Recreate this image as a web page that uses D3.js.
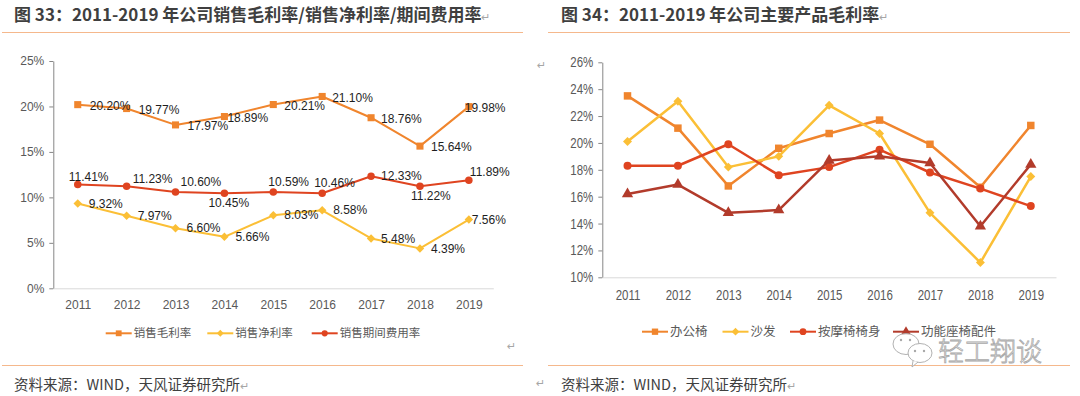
<!DOCTYPE html>
<html>
<head>
<meta charset="utf-8">
<script src="https://cdn.jsdelivr.net/npm/d3@7"></script>
<style>
  body { margin: 0; background: #fff; }
  svg { display: block; }
</style>
</head>
<body>
<svg id="chart" width="1080" height="396"></svg>
<script>
// data
const years = ['2011', '2012', '2013', '2014', '2015', '2016', '2017', '2018', '2019'];

const grossMargin = [20.20, 19.77, 17.97, 18.89, 20.21, 21.10, 18.76, 15.64, 19.98];
const netMargin = [9.32, 7.97, 6.60, 5.66, 8.03, 8.58, 5.48, 4.39, 7.56];
const expenseRatio = [11.41, 11.23, 10.60, 10.45, 10.59, 10.46, 12.33, 11.22, 11.89];
const leftTicks = [0, 5, 10, 15, 20, 25];
const leftNames = ['销售毛利率', '销售净利率', '销售期间费用率'];

const officeChair = [23.5, 21.1, 16.8, 19.6, 20.7, 21.7, 19.9, 16.7, 21.3];
const sofa = [20.1, 23.1, 18.2, 19.0, 22.8, 20.7, 14.8, 11.1, 17.5];
const massageChair = [18.3, 18.3, 19.9, 17.6, 18.2, 19.5, 17.8, 16.6, 15.3];
const seatParts = [16.2, 16.9, 14.8, 15.0, 18.7, 19.0, 18.5, 13.8, 18.4];
const rightTicks = [10, 12, 14, 16, 18, 20, 22, 24, 26];
const rightNames = ['办公椅', '沙发', '按摩椅椅身', '功能座椅配件'];

// where each data label sits relative to its point
const grossLabelDx = [12, 12, 12, 3, 11, 10, 10, 11, -4];
const netLabelDx = [11, 11, 11, 11, 11, 11, 10, 11, 3];
const feeLabelDx = [-9, 6, 5, -16, -5, -8, 10, -9, 1];
const feeLabelDy = [-8, -7, -10, 10, -10, -10, 0, 10, -8];

const ORANGE = '#F0852D', YELLOW = '#FBBF36', RED = '#DF4420', DARKRED = '#B23B2B';
const CJK = '"Noto Sans CJK SC", sans-serif';
const LATIN = '"Liberation Sans", Arial, sans-serif';
const SQUEEZE = 0.82; // right chart axis text is a condensed face

const svg = d3.select('#chart');

function marker(type, size) {
  if (type === 'diamond') return { path: d3.symbol(d3.symbolSquare, size)(), rot: 45 };
  if (type === 'square') return { path: d3.symbol(d3.symbolSquare, size)(), rot: 0 };
  if (type === 'circle') return { path: d3.symbol(d3.symbolCircle, size)(), rot: 0 };
  return { path: d3.symbol(d3.symbolTriangle, size)(), rot: 0 };
}

function drawSeries(g, x, y, values, color, type, size, width) {
  const line = d3.line()
    .x((d, i) => x(years[i]))
    .y(d => y(d));

  g.append('path')
    .datum(values)
    .attr('fill', 'none')
    .attr('stroke', color)
    .attr('stroke-width', width)
    .attr('stroke-linejoin', 'round')
    .attr('d', line);

  const m = marker(type, size);
  g.selectAll(null)
    .data(values)
    .enter().append('path')
    .attr('d', m.path)
    .attr('fill', color)
    .attr('transform', (d, i) => `translate(${x(years[i])},${y(d)}) rotate(${m.rot})`);
}

function drawLabels(g, x, y, values, dx, dy) {
  g.selectAll(null)
    .data(values)
    .enter().append('text')
    .attr('x', (d, i) => x(years[i]) + dx[i])
    .attr('y', (d, i) => y(d) + (dy ? dy[i] : 1))
    .attr('dy', '0.35em')
    .attr('font-family', LATIN)
    .attr('font-size', 12)
    .attr('fill', '#1e1e1e')
    .text(d => d.toFixed(2) + '%');
}

function legendItem(g, lx, ly, color, type, size, label, fontSize) {
  g.append('line')
    .attr('x1', lx).attr('x2', lx + 26)
    .attr('y1', ly).attr('y2', ly)
    .attr('stroke', color).attr('stroke-width', 2);
  const m = marker(type, size);
  g.append('path')
    .attr('d', m.path)
    .attr('fill', color)
    .attr('transform', `translate(${lx + 13},${ly}) rotate(${m.rot})`);
  g.append('text')
    .attr('x', lx + 28).attr('y', ly)
    .attr('dy', '0.36em')
    .attr('font-family', CJK)
    .attr('font-size', fontSize)
    .attr('fill', '#595959')
    .text(label);
}

function returnMark(px, py) {
  svg.append('text')
    .attr('x', px).attr('y', py)
    .attr('font-family', '"DejaVu Sans", sans-serif')
    .attr('font-size', 11)
    .attr('fill', '#a6a6a6')
    .text('↵');
}

function frame(x0, x1, title, tx) {
  const t = svg.append('text')
    .attr('x', tx).attr('y', 21)
    .attr('font-family', CJK)
    .attr('font-weight', 'bold')
    .attr('font-size', 17)
    .attr('fill', '#3f3f3f')
    .text(title);
  t.append('tspan')
    .attr('font-weight', 'normal')
    .attr('font-size', 11)
    .attr('fill', '#a6a6a6')
    .text('↵');

  svg.append('line')
    .attr('x1', x0).attr('x2', x1).attr('y1', 32.5).attr('y2', 32.5)
    .attr('stroke', '#F5B88C').attr('stroke-width', 1);
  svg.append('line')
    .attr('x1', x0).attr('x2', x1).attr('y1', 365.5).attr('y2', 365.5)
    .attr('stroke', '#F5B88C').attr('stroke-width', 1);

  const s = svg.append('text')
    .attr('x', tx).attr('y', 390)
    .attr('font-family', CJK)
    .attr('font-size', 14.5)
    .attr('fill', '#404040')
    .text('资料来源：WIND，天风证券研究所');
  s.append('tspan')
    .attr('font-size', 11)
    .attr('fill', '#a6a6a6')
    .text('↵');
}

// ---------- left chart ----------
frame(2, 523, '图 33：2011-2019 年公司销售毛利率/销售净利率/期间费用率', 14);

const xL = d3.scalePoint().domain(years).range([53.3, 493.3]).padding(0.5);
const yL = d3.scaleLinear().domain([0, 25]).range([288.3, 61]);
const gL = svg.append('g');

gL.append('g')
  .attr('transform', 'translate(53.3,0)')
  .call(d3.axisLeft(yL).tickValues(leftTicks).tickSize(4).tickSizeOuter(0).tickPadding(5)
    .tickFormat(d => d + '%'))
  .call(a => a.select('.domain').attr('stroke', '#868686'))
  .call(a => a.selectAll('.tick line').attr('stroke', '#868686'))
  .call(a => a.selectAll('text').attr('font-family', LATIN).attr('font-size', 12).attr('fill', '#595959'));

gL.append('g')
  .attr('transform', 'translate(0,288.3)')
  .call(d3.axisBottom(xL).tickSize(0).tickSizeOuter(0).tickPadding(12))
  .call(a => a.select('.domain').attr('stroke', '#d9d9d9'))
  .call(a => a.selectAll('text').attr('font-family', LATIN).attr('font-size', 12).attr('fill', '#595959'));

drawSeries(gL, xL, yL, grossMargin, ORANGE, 'square', 50, 2);
drawSeries(gL, xL, yL, netMargin, YELLOW, 'diamond', 36, 2);
drawSeries(gL, xL, yL, expenseRatio, RED, 'circle', 44, 2);

drawLabels(gL, xL, yL, grossMargin, grossLabelDx);
drawLabels(gL, xL, yL, netMargin, netLabelDx, years.map(() => 0));
drawLabels(gL, xL, yL, expenseRatio, feeLabelDx, feeLabelDy);

legendItem(gL, 105.7, 333.3, ORANGE, 'square', 34, leftNames[0], 11.5);
legendItem(gL, 207.3, 333.3, YELLOW, 'diamond', 24, leftNames[1], 11.5);
legendItem(gL, 311.7, 333.3, RED, 'circle', 30, leftNames[2], 11.5);

returnMark(507, 350);

// ---------- right chart ----------
frame(548, 1070, '图 34：2011-2019 年公司主要产品毛利率', 561);

const xR = d3.scalePoint().domain(years).range([602.3, 1056]).padding(0.5);
const yR = d3.scaleLinear().domain([10, 26]).range([277.3, 62.3]);
const gR = svg.append('g');

gR.append('g')
  .attr('transform', 'translate(602.3,0)')
  .call(d3.axisLeft(yR).tickValues(rightTicks).tickSize(4).tickSizeOuter(0).tickPadding(5)
    .tickFormat(d => d + '%'))
  .call(a => a.select('.domain').attr('stroke', '#868686'))
  .call(a => a.selectAll('.tick line').attr('stroke', '#868686'))
  .call(a => a.selectAll('text')
    .attr('font-family', LATIN).attr('font-size', 14).attr('fill', '#595959')
    .attr('x', -9 / SQUEEZE)
    .attr('transform', `scale(${SQUEEZE},1)`));

gR.append('g')
  .attr('transform', 'translate(0,277.3)')
  .call(d3.axisBottom(xR).tickSize(0).tickSizeOuter(0).tickPadding(13))
  .call(a => a.select('.domain').attr('stroke', '#d9d9d9'))
  .call(a => a.selectAll('text')
    .attr('font-family', LATIN).attr('font-size', 14).attr('fill', '#595959')
    .attr('transform', `scale(${SQUEEZE},1)`));

drawSeries(gR, xR, yR, officeChair, ORANGE, 'square', 56, 2.5);
drawSeries(gR, xR, yR, sofa, YELLOW, 'diamond', 40, 2.5);
drawSeries(gR, xR, yR, massageChair, RED, 'circle', 50, 2.5);
drawSeries(gR, xR, yR, seatParts, DARKRED, 'triangle', 55, 2.5);

legendItem(gR, 642, 331.7, ORANGE, 'square', 40, rightNames[0], 12.5);
legendItem(gR, 722.5, 331.7, YELLOW, 'diamond', 30, rightNames[1], 12.5);
legendItem(gR, 790, 331.7, RED, 'circle', 36, rightNames[2], 12.5);
legendItem(gR, 893, 331.7, DARKRED, 'triangle', 40, rightNames[3], 12.5);

returnMark(537, 69);
returnMark(536, 387);

// watermark over the legend corner
const wm = svg.append('g').attr('fill', '#fff').attr('stroke', '#a8a8a8').attr('stroke-width', 0.9);
wm.append('ellipse').attr('cx', 906).attr('cy', 344).attr('rx', 13).attr('ry', 10.5).attr('fill-opacity', 0.75);
wm.append('ellipse').attr('cx', 920).attr('cy', 353).attr('rx', 12).attr('ry', 9.5);
wm.append('path').attr('d', 'M913,361 L912,367 L918,362');
[[901, 340], [910, 340], [915, 351], [924, 351]].forEach(p => {
  wm.append('circle').attr('cx', p[0]).attr('cy', p[1]).attr('r', 1.2).attr('fill', '#a8a8a8').attr('stroke', 'none');
});
wm.append('text')
  .attr('x', 938).attr('y', 361)
  .attr('font-family', CJK)
  .attr('font-size', 26)
  .attr('font-weight', 300)
  .attr('stroke-width', 0.8)
  .text('轻工翔谈');
</script>
</body>
</html>
